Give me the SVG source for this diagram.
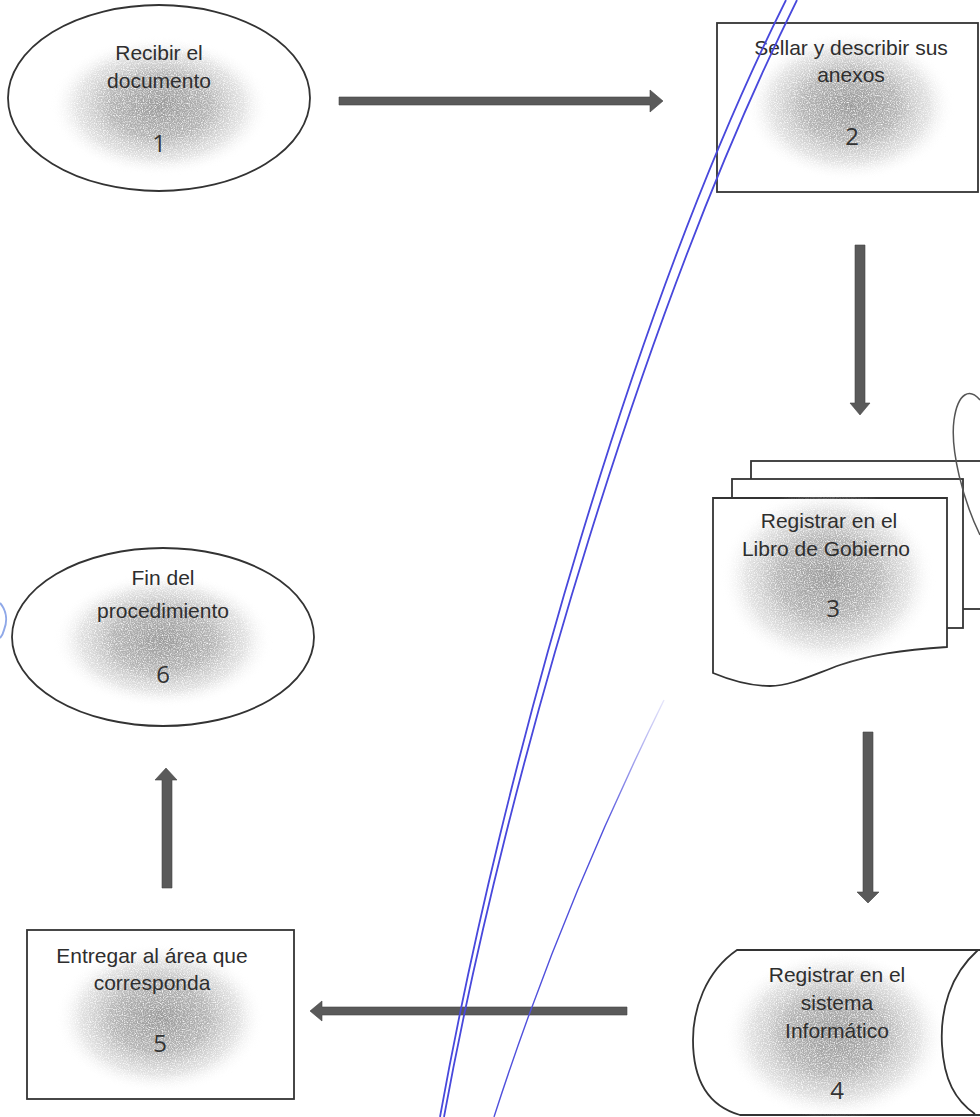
<svg xmlns="http://www.w3.org/2000/svg" width="980" height="1117" viewBox="0 0 980 1117">
<defs>
<radialGradient id="shade" cx="50%" cy="50%" r="50%">
<stop offset="0%" stop-color="#8e8e8e" stop-opacity="0.9"/>
<stop offset="45%" stop-color="#a2a2a2" stop-opacity="0.8"/>
<stop offset="75%" stop-color="#c4c4c4" stop-opacity="0.5"/>
<stop offset="100%" stop-color="#ffffff" stop-opacity="0"/>
</radialGradient>
<linearGradient id="fade" gradientUnits="userSpaceOnUse" x1="0" y1="700" x2="0" y2="830">
<stop offset="0%" stop-color="#5a5ae0" stop-opacity="0.15"/>
<stop offset="100%" stop-color="#5050dc" stop-opacity="1"/>
</linearGradient>
<filter id="grain" x="-10%" y="-10%" width="120%" height="120%">
<feTurbulence type="fractalNoise" baseFrequency="0.85" numOctaves="2" seed="3" result="n"/>
<feColorMatrix in="n" type="matrix" values="0 0 0 0 0  0 0 0 0 0  0 0 0 0 0  0 0 0 2.2 -0.25" result="g"/>
<feComposite in="SourceGraphic" in2="g" operator="in"/>
</filter>
</defs>
<style>
.shape{fill:#fff;stroke:#333;stroke-width:1.8}
.blob{fill:url(#shade);filter:url(#grain)}
.lbl{font-family:"Liberation Sans",Arial,sans-serif;font-size:21px;fill:#2e2e2e;text-anchor:middle}
.num{font-family:"Open Sans","Noto Sans",sans-serif;font-size:24px;fill:#333;text-anchor:middle}
.arrow{fill:#5a5a5a;stroke:#444;stroke-width:0.6}
.pen{fill:none;stroke:#4848dc;stroke-width:1.8}
</style>
<rect width="980" height="1117" fill="#fff"/>

<g id="node1">
<ellipse class="shape" cx="159" cy="98" rx="151" ry="93"/>
<ellipse class="blob" cx="160" cy="106" rx="110" ry="70"/>
<text class="lbl" x="159" y="60">Recibir el</text>
<text class="lbl" x="159" y="88">documento</text>
<text class="num" x="159" y="152">1</text>
</g>

<g id="node2">
<rect class="shape" x="717" y="23" width="261" height="169"/>
<ellipse class="blob" cx="850" cy="106" rx="105" ry="75"/>
<text class="lbl" x="851" y="55">Sellar y describir sus</text>
<text class="lbl" x="851" y="82">anexos</text>
<text class="num" x="852" y="145">2</text>
</g>

<g id="node3">
<rect class="shape" x="751" y="461" width="236" height="148"/>
<rect class="shape" x="732" y="479" width="231" height="149"/>
<path class="shape" d="M713,498 H947 V647 C900,650 870,655 840,665 C810,676 790,686 770,686 C745,686 725,678 713,673 Z"/>
<ellipse class="blob" cx="828" cy="578" rx="108" ry="90"/>
<text class="lbl" x="829" y="528">Registrar en el</text>
<text class="lbl" x="826" y="556">Libro de Gobierno</text>
<text class="num" x="833" y="617">3</text>
<path d="M980,400 C970,388 958,392 954,420 C950,450 963,500 980,535" fill="none" stroke="#555" stroke-width="1.5"/>
</g>

<g id="node4">
<path class="shape" d="M737,950 H985 V1115 H740 C705,1105 693,1075 693,1040 C693,1010 705,972 737,950 Z"/>
<ellipse class="blob" cx="835" cy="1035" rx="112" ry="85"/>
<path d="M978,950 C950,975 940,1010 942,1045 C944,1080 955,1100 975,1114" fill="none" stroke="#333" stroke-width="1.8"/>
<text class="lbl" x="837" y="982">Registrar en el</text>
<text class="lbl" x="837" y="1010">sistema</text>
<text class="lbl" x="837" y="1038">Informático</text>
<text class="num" x="837" y="1099">4</text>
</g>

<g id="node5">
<rect class="shape" x="27" y="930" width="267" height="169"/>
<ellipse class="blob" cx="160" cy="1018" rx="105" ry="75"/>
<text class="lbl" x="152" y="963">Entregar al área que</text>
<text class="lbl" x="152" y="990">corresponda</text>
<text class="num" x="160" y="1052">5</text>
</g>

<g id="node6">
<ellipse class="shape" cx="163" cy="637" rx="151" ry="89"/>
<ellipse class="blob" cx="163" cy="640" rx="110" ry="68"/>
<text class="lbl" x="163" y="585">Fin del</text>
<text class="lbl" x="163" y="618">procedimiento</text>
<text class="num" x="163" y="683">6</text>
</g>

<g id="connectors">
<path class="arrow" d="M339,97 H650 V90 L663,101 L650,112 V105 H339 Z"/>
<path class="arrow" d="M855,245 V403 H850 L860,415 L870,403 H865 V245 Z"/>
<path class="arrow" d="M863,732 V892 H857 L868,903 L879,892 H873 V732 Z"/>
<path class="arrow" d="M627,1007 H322 V1001 L310,1011 L322,1021 V1015 H627 Z"/>
<path class="arrow" d="M162,888 V780 H155 L166,768 L177,780 H172 V888 Z"/>
</g>

<g id="pen-marks">
<path class="pen" d="M786,0 C636,300 503,767 440,1117"/>
<path class="pen" d="M797,0 C648,300 508,767 444,1117"/>
<path d="M664,700 C595,840 539,977 494,1117" fill="none" stroke="url(#fade)" stroke-width="1.4"/>
<path d="M0,603 C6,610 8,620 4,630 C3,634 1,637 0,638" fill="none" stroke="#8fa8e8" stroke-width="2"/>
</g>
</svg>
